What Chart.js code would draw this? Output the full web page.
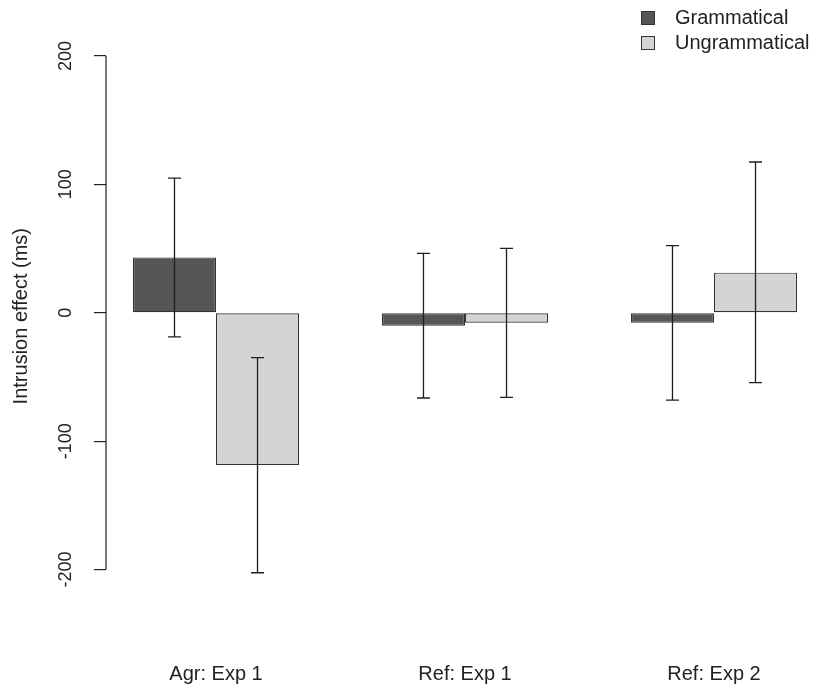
<!DOCTYPE html>
<html>
<head>
<meta charset="utf-8">
<script src="https://cdn.jsdelivr.net/npm/chart.js@4/dist/chart.umd.min.js"></script>
<style>
  body { margin: 0; background: #fff; }
  #wrap { position: relative; width: 818px; height: 686px; overflow: hidden; }
  #legend { position: absolute; left: 641px; top: 5px; font: 20px "Liberation Sans", Arial, sans-serif; color: #222; }
  #legend div { display: flex; align-items: center; height: 25px; }
  #legend span.box { display: inline-block; width: 12px; height: 12px; border: 1px solid #333; margin-right: 20px; }
</style>
</head>
<body>
<div id="wrap">
  <canvas id="chart" width="818" height="686"></canvas>
  <div id="legend"></div>
</div>
<script>
const categories = ['Agr: Exp 1', 'Ref: Exp 1', 'Ref: Exp 2'];
const seriesNames = ['Grammatical', 'Ungrammatical'];
const grammatical = [43.1, -10.1, -7.8];
const ungrammatical = [-118.6, -7.8, 31.2];
const grammaticalLow = [-18.8, -66.4, -68.0];
const grammaticalHigh = [104.8, 46.3, 52.2];
const ungrammaticalLow = [-202.5, -65.9, -54.5];
const ungrammaticalHigh = [-35.0, 50.1, 117.4];
const yTicks = [-200, -100, 0, 100, 200];

const fills = ['#545658', '#d3d4d6'];
const font = '"Liberation Sans", Arial, sans-serif';

document.getElementById('legend').innerHTML = seriesNames.map((name, i) =>
    `<div><span class="box" style="background:${fills[i]}"></span>${name}</div>`).join('');

const positions = categories.map((c, i) => i + 1);
const values = [grammatical, ungrammatical];
const lows = [grammaticalLow, ungrammaticalLow];
const highs = [grammaticalHigh, ungrammaticalHigh];

// error bars and the short R-style axis line
const errorBars = {
    id: 'errorBars',
    afterDatasetsDraw(chart) {
        const ctx = chart.ctx;
        const y = chart.scales.y;
        ctx.save();
        ctx.strokeStyle = '#1e1e1e';
        ctx.lineWidth = 1.3;
        chart.data.datasets.forEach((ds, d) => {
            chart.getDatasetMeta(d).data.forEach((bar, i) => {
                const top = y.getPixelForValue(highs[d][i]);
                const bottom = y.getPixelForValue(lows[d][i]);
                ctx.beginPath();
                ctx.moveTo(bar.x, top); ctx.lineTo(bar.x, bottom);
                ctx.moveTo(bar.x - 6.5, top); ctx.lineTo(bar.x + 6.5, top);
                ctx.moveTo(bar.x - 6.5, bottom); ctx.lineTo(bar.x + 6.5, bottom);
                ctx.stroke();
            });
        });
        const x = chart.chartArea.left;
        ctx.lineWidth = 1.2;
        ctx.beginPath();
        ctx.moveTo(x, y.getPixelForValue(yTicks[0]));
        ctx.lineTo(x, y.getPixelForValue(yTicks[yTicks.length - 1]));
        ctx.stroke();
        ctx.restore();
    }
};

new Chart(document.getElementById('chart'), {
    type: 'bar',
    data: {
        datasets: seriesNames.map((name, d) => ({
            label: name,
            data: positions.map((p, i) => ({ x: p, y: values[d][i] })),
            backgroundColor: fills[d],
            borderColor: '#333',
            borderWidth: 1.2,
            borderSkipped: false,
            categoryPercentage: 0.667,
            barPercentage: 1
        }))
    },
    options: {
        responsive: false,
        animation: false,
        layout: { padding: { left: 0, right: 0, top: 35.4, bottom: 0 } },
        plugins: { legend: { display: false }, tooltip: { enabled: false } },
        scales: {
            x: {
                type: 'linear',
                offset: false,
                min: 0.5582,
                max: 3.4177,
                grid: { display: false, drawTicks: false },
                border: { display: false },
                afterBuildTicks: (scale) => { scale.ticks = positions.map(v => ({ value: v })); },
                // the big label gap is counted twice in fit() and leaks into side padding
                afterFit: (scale) => {
                    scale.paddingLeft = 0;
                    scale.paddingRight = 0;
                    scale.height -= scale.options.ticks.padding;
                },
                ticks: {
                    padding: 65,
                    maxRotation: 0,
                    color: '#222',
                    font: { family: font, size: 20 },
                    callback: (v) => categories[v - 1]
                }
            },
            y: {
                min: -221.4,
                max: 216,
                grid: { drawOnChartArea: false, drawTicks: true, tickLength: 12, color: '#222', lineWidth: 1.2 },
                border: { display: false },
                afterBuildTicks: (scale) => { scale.ticks = yTicks.map(v => ({ value: v })); },
                ticks: {
                    padding: 10,
                    minRotation: 90,
                    maxRotation: 90,
                    crossAlign: 'center',
                    color: '#222',
                    font: { family: font, size: 18 }
                },
                title: {
                    display: true,
                    text: 'Intrusion effect (ms)',
                    color: '#222',
                    padding: { top: 9, bottom: 19.4 },
                    font: { family: font, size: 20 }
                }
            }
        }
    },
    plugins: [errorBars]
});
</script>
</body>
</html>
